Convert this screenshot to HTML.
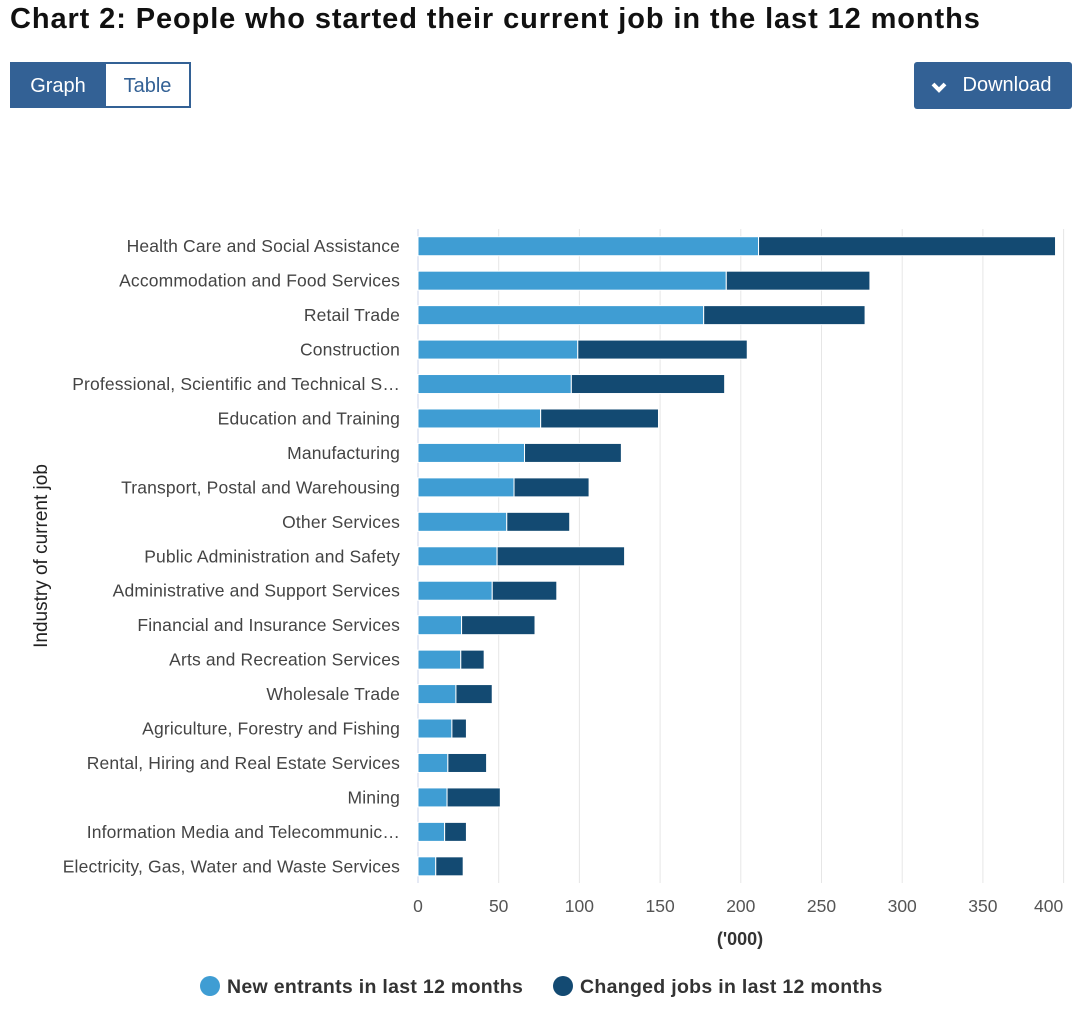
<!DOCTYPE html>
<html><head><meta charset="utf-8"><style>
body{margin:0;width:1080px;height:1009px;background:#fff;font-family:"Liberation Sans",sans-serif;position:relative;overflow:hidden}
.t{position:absolute;left:10px;top:3px;font-size:29px;font-weight:bold;color:#111;letter-spacing:0.9px}
.btn{position:absolute;top:62px;height:46px;box-sizing:border-box;font-size:20px;line-height:46px;text-align:center}
</style></head><body>
<div class="t">Chart 2: People who started their current job in the last 12 months</div>
<div class="btn" style="left:10px;width:96px;background:#336195;color:#fff;border:2px solid #336195;line-height:44px">Graph</div>
<div class="btn" style="left:104px;width:87px;background:#fff;color:#336195;border:2px solid #336195;line-height:44px">Table</div>
<div class="btn" style="left:914px;width:158px;background:#336195;color:#fff;border-radius:3px;padding-left:28px;height:47px"><svg style="position:absolute;left:17px;top:20px" width="16" height="11" viewBox="0 0 16 11"><path d="M2 2 L8 8 L14 2" stroke="#fff" stroke-width="4" fill="none"/></svg>Download</div>
<svg id="c" width="1080" height="1009" style="position:absolute;left:0;top:0"></svg>
<script>
const categories=["Health Care and Social Assistance","Accommodation and Food Services","Retail Trade","Construction","Professional, Scientific and Technical S…","Education and Training","Manufacturing","Transport, Postal and Warehousing","Other Services","Public Administration and Safety","Administrative and Support Services","Financial and Insurance Services","Arts and Recreation Services","Wholesale Trade","Agriculture, Forestry and Fishing","Rental, Hiring and Real Estate Services","Mining","Information Media and Telecommunic…","Electricity, Gas, Water and Waste Services"];
const newEntrants=[211,191,177,99,95,76,66,59.5,55,49,46,27,26.5,23.5,21,18.5,18,16.5,11];
const changedJobs=[184,89,100,105,95,73,60,46.5,39,79,40,45.5,14.5,22.5,9,24,33,13.5,17];
const ticks=[0,50,100,150,200,250,300,350,400];
const NS="http://www.w3.org/2000/svg",svg=document.getElementById('c');
const x0=418,x1=1063.6,xmax=400,top0=229,step=34.45,bh=19;
const X=v=>x0+v/xmax*(x1-x0);
const Y=i=>top0+step*i+step/2;
function mk(t,a,txt){const e=document.createElementNS(NS,t);for(const k in a)e.setAttribute(k,a[k]);if(txt!=null)e.textContent=txt;svg.appendChild(e);return e;}
ticks.forEach((t,i)=>{
 const g=mk('line',{x1:X(t),x2:X(t),y1:top0,y2:883,stroke:i?'#e6e6e6':'#ccd6eb','stroke-width':1});
 
 
 const lx=i==ticks.length-1?X(t)-15:X(t);
 const l=mk('text',{x:lx,y:912,'text-anchor':'middle','font-size':17.5,fill:'#555'},t);
 
 
});
categories.forEach((c,i)=>{
 const y=Y(i);
 const l=mk('text',{x:400,y:y+6,'text-anchor':'end','font-size':17.5,fill:'#444','letter-spacing':0.15},c);
 
 
 const a=mk('rect',{x:X(0),y:y-bh/2,width:X(newEntrants[i])-X(0),height:bh,fill:'#3f9dd3',stroke:'#fff','stroke-width':1});
 
 
 const b=mk('rect',{x:X(newEntrants[i]),y:y-bh/2,width:X(newEntrants[i]+changedJobs[i])-X(newEntrants[i]),height:bh,fill:'#134a72',stroke:'#fff','stroke-width':1});
 
 
});
const xt=mk('text',{x:740,y:945,'text-anchor':'middle','font-size':18,'font-weight':'bold',fill:'#333'},"('000)");


const yt=mk('text',{x:47,y:556,'text-anchor':'middle','font-size':19,fill:'#222',transform:'rotate(-90 47 556)'},'Industry of current job');


[[210,'#3f9dd3','New entrants in last 12 months'],[563,'#134a72','Changed jobs in last 12 months']].forEach(([lx,col,txt])=>{
 const c=mk('circle',{cx:lx,cy:986,r:10,fill:col});
 
 
 const t=mk('text',{x:lx+17,y:993,'font-size':19.5,'font-weight':'bold',fill:'#333','letter-spacing':0.3},txt);
 
 
});
</script>
</body></html>
